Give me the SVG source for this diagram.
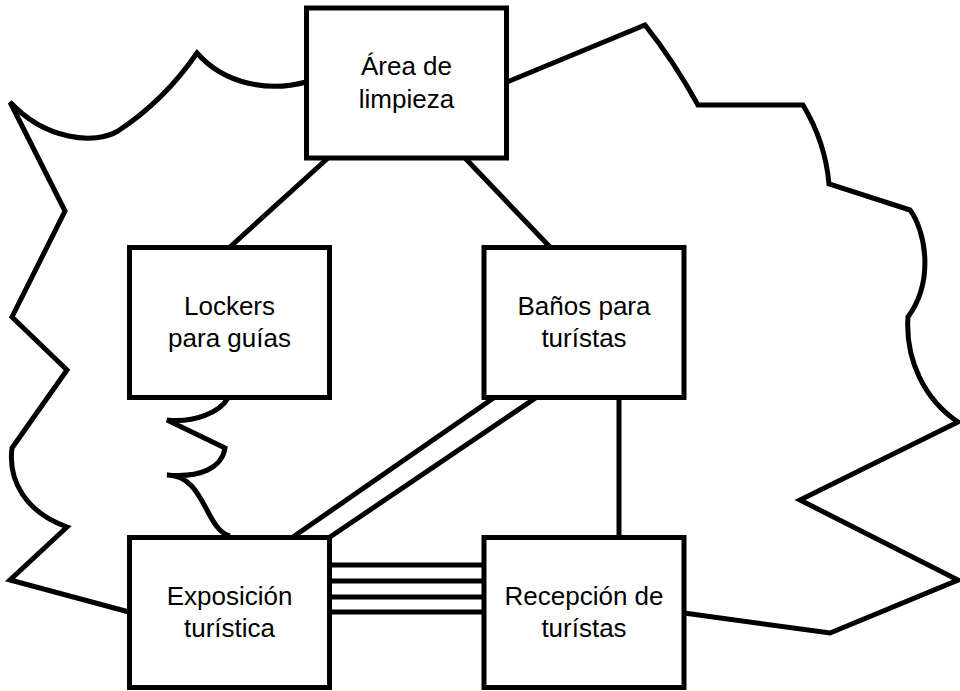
<svg xmlns="http://www.w3.org/2000/svg" width="960" height="691" viewBox="0 0 960 691">
<style>
.ln{fill:none;stroke:#000;stroke-width:5;stroke-linejoin:miter;stroke-linecap:butt}
.box{fill:#fff;stroke:#000;stroke-width:5}
.t{font-family:"Liberation Sans",Arial,sans-serif;font-size:26px;fill:#000;text-anchor:middle}
</style>
<rect width="960" height="691" fill="#fff"/>
<g id="outline">
<path class="ln" d="M306,82 C270,92 225,85 197,53 C175,85 150,110 118,131 C95,145 45,140 10,102 L65,211 L12,317 L67,370 L12,448 C8,480 25,512 67,527 L10,580 L129,612"/>
<path class="ln" d="M507,82 L645,25 Q673,60 698,105 L803,105 C815,125 826,150 829,184 L910,210 C925,230 935,280 908,317 C905,360 925,400 958,422 L800,500 L958,580 L830,633 L684,613"/>
<path class="ln" d="M228,398 C220,412 195,423 167,420 L225,448 C222,468 200,478 167,475 C205,475 205,530 230,536"/>
</g>
<g id="connectors">
<path class="ln" d="M328,158 L230,247"/>
<path class="ln" d="M465,158 L550,247"/>
<path class="ln" d="M619,397 L619,537"/>
<path class="ln" d="M293,537 L495,397"/>
<path class="ln" d="M330,537 L537,397"/>
<path class="ln" d="M330,565 H484 M330,581 H484 M330,597 H484 M330,612 H484"/>
</g>
<g id="n1"><rect class="box" x="306.5" y="8" width="200" height="150"/><text class="t" x="406.5" y="75">Área de</text><text class="t" x="406.5" y="107.5">limpieza</text></g>
<g id="n2"><rect class="box" x="129.5" y="247.5" width="200" height="150"/><text class="t" x="229.5" y="314.5">Lockers</text><text class="t" x="229.5" y="347">para guías</text></g>
<g id="n3"><rect class="box" x="484" y="247.5" width="200" height="150"/><text class="t" x="584" y="314.5">Baños para</text><text class="t" x="584" y="347">turístas</text></g>
<g id="n4"><rect class="box" x="129.5" y="537.5" width="200" height="150"/><text class="t" x="229.5" y="604.5">Exposición</text><text class="t" x="229.5" y="637">turística</text></g>
<g id="n5"><rect class="box" x="484" y="537.5" width="200" height="150"/><text class="t" x="584" y="604.5">Recepción de</text><text class="t" x="584" y="637">turístas</text></g>
</svg>
